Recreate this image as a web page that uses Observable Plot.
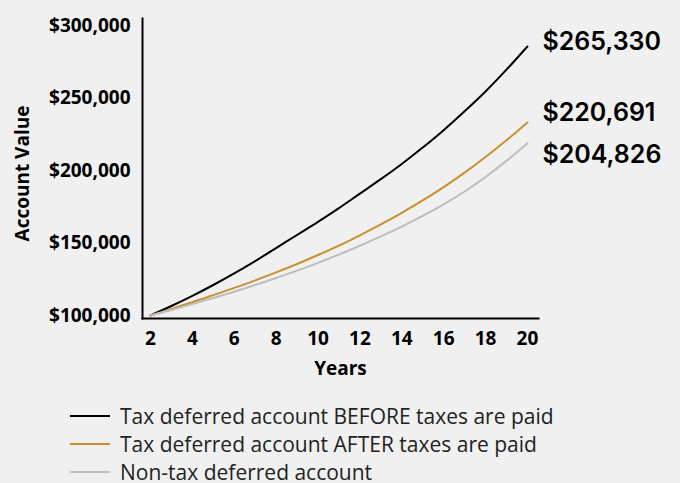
<!DOCTYPE html>
<html><head><meta charset="utf-8">
<script src="https://cdn.jsdelivr.net/npm/d3@7"></script>
<script src="https://cdn.jsdelivr.net/npm/@observablehq/plot@0.6"></script>
<style>
html,body{margin:0;padding:0;background:#f0f0f0;}
#chart{width:680px;height:483px;overflow:hidden;position:relative;font-family:"Open Sans",sans-serif;}
#legend{position:absolute;left:70px;top:402px;}
.row{display:flex;align-items:center;height:28px;font-size:21px;color:#222;white-space:nowrap;}
.sw{width:40px;height:2px;margin-right:10px;flex:none;}
</style></head><body><div id="chart"></div>
<script>
// ---- data ----
const years = [2,3,4,5,6,7,8,9,10,11,12,13,14,15,16,17,18,19,20];
const beforeTaxes = [100000,106500,113500,121000,129000,137500,146500,155500,164500,174000,184000,194000,204500,215800,227800,240800,254500,269500,285500];
const afterTaxes  = [100000,104500,109100,114000,119000,124200,129700,135500,141700,148200,155300,162800,170800,179300,188500,198500,209300,220800,233100];
const nonDeferred = [100000,103800,107800,112000,116400,121000,125800,130900,136300,142000,148100,154500,161300,168600,176600,185500,195500,206600,218800];
const seriesNames = ["Tax deferred account BEFORE taxes are paid","Tax deferred account AFTER taxes are paid","Non-tax deferred account"];
const endLabels = ["$265,330","$220,691","$204,826"];
const xTicks = [2,4,6,8,10,12,14,16,18,20];
const yTicks = [100000,150000,200000,250000,300000];
const xLabel = "Years";
const yLabel = "Account Value";

// ---- styles ----
const colors = ["#000000","#c8912f","#bdbdbd"];
const labelDy = [-4,-9,12];

const seriesValues = [beforeTaxes, afterTaxes, nonDeferred];
const rows = seriesValues.flatMap((vals, s) => years.map((yr, i) => ({series: seriesNames[s], year: yr, value: vals[i]})));
const ends = seriesValues.map((vals, s) => ({series: seriesNames[s], year: years[years.length-1], value: vals[vals.length-1], label: endLabels[s]}));

const plot = Plot.plot({
  width: 680,
  height: 400,
  marginLeft: 142,
  marginRight: 142,
  marginTop: 18,
  marginBottom: 82,
  style: {background: "transparent", fontFamily: "'Open Sans', sans-serif", overflow: "visible", color: "#000"},
  x: {domain: [1.62, 20.53]},
  y: {domain: [97900, 304800]},
  color: {domain: seriesNames, range: colors},
  marks: [
    Plot.axisY({ticks: yTicks, tickFormat: d3.format("$,"), tickSize: 0, tickPadding: 12, fontSize: 19, fontWeight: "bold", label: null}),
    Plot.axisX({ticks: xTicks, tickFormat: d => String(d), tickSize: 0, tickPadding: 13, fontSize: 19, fontWeight: "bold", label: null}),
    Plot.frame({anchor: "left", stroke: "#000", strokeWidth: 2}),
    Plot.frame({anchor: "bottom", stroke: "#000", strokeWidth: 2}),
    Plot.text([yLabel], {text: d => d, frameAnchor: "left", textAnchor: "middle", rotate: -90, dx: -120, dy: 5, fontSize: 19, fontWeight: "bold", fill: "#000"}),
    Plot.text([xLabel], {text: d => d, frameAnchor: "bottom", textAnchor: "middle", dy: 56, fontSize: 19, fontWeight: "bold", fill: "#000"}),
    Plot.line(rows, {x: "year", y: "value", z: "series", stroke: "series", strokeWidth: 2, curve: "catmull-rom"}),
    ...ends.map((e, s) => Plot.text([e], {x: "year", y: "value", text: "label", dx: 15, dy: labelDy[s], textAnchor: "start", fontSize: 25, fontWeight: 600, fontFamily: "Inter", fill: "#000"}))
  ]
});
const chart = document.getElementById("chart");
chart.appendChild(plot);
const legend = document.createElement("div");
legend.id = "legend";
seriesNames.forEach((name, i) => {
  const row = document.createElement("div");
  row.className = "row";
  const sw = document.createElement("span");
  sw.className = "sw";
  sw.style.background = colors[i];
  const t = document.createElement("span");
  t.textContent = name;
  row.appendChild(sw); row.appendChild(t);
  legend.appendChild(row);
});
chart.appendChild(legend);
</script></body></html>
